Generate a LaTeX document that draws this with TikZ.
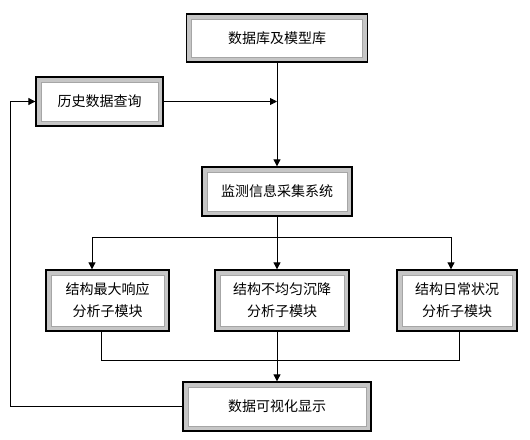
\documentclass[tikz,border=0pt]{standalone}
\usepackage{fontspec}
\newfontfamily\cjk{Noto Sans CJK SC}
\usetikzlibrary{arrows.meta,positioning,calc}

\begin{document}
\begin{tikzpicture}[x=1pt, y=-1pt,
  box/.style={draw=black, line width=1.3pt, fill=white, inner sep=0pt, align=center,
    font=\cjk\fontsize{14}{22}\selectfont,
    path picture={
      \draw[gray!45, line width=10pt] (path picture bounding box.south west) rectangle (path picture bounding box.north east);
      \draw[gray!70, line width=0.6pt] ([shift={(5pt,-5pt)}]path picture bounding box.north west) rectangle ([shift={(-5pt,5pt)}]path picture bounding box.south east);}},
  line/.style={line width=0.8pt},
  arr/.style={line, -{Triangle[length=7pt, width=7pt]}}]
  \useasboundingbox (0,0) rectangle (530,439);
  \node[box, minimum width=181pt, minimum height=48pt] (db) at (277,38) {数据库及模型库};
  \node[box, minimum width=127pt, minimum height=49pt] (hist) at (99.5,101.5) {历史数据查询};
  \node[box, minimum width=150pt, minimum height=49pt] (mon) at (277,191.5) {监测信息采集系统};
  \node[box, minimum width=123pt, minimum height=61pt] (maxr) at (107.5,300.5) {结构最大响应\\分析子模块};
  \node[box, minimum width=134pt, minimum height=61pt] (uneven) at (282,300.5) {结构不均匀沉降\\分析子模块};
  \node[box, minimum width=120pt, minimum height=61pt] (daily) at (457,300.5) {结构日常状况\\分析子模块};
  \node[box, minimum width=188pt, minimum height=49pt] (vis) at (277,406.5) {数据可视化显示};
  \coordinate (merge) at (277,101.5);
  \coordinate (split) at (277,237);
  \coordinate (sl) at (92,237);
  \coordinate (sr) at (451,237);
  \coordinate (join) at (277,360);
  \coordinate (jl) at (101,360);
  \coordinate (jr) at (459,360);
  \coordinate (loop) at (10,0);
  \draw[arr] (db.south) -- (mon.north);
  \draw[arr] (hist.east) -- (merge);
  \draw[line] (mon.south) -- (split);
  \draw[line] (sl) -- (sr);
  \draw[arr] (sl) -- (sl |- maxr.north);
  \draw[arr] (split) -- (split |- uneven.north);
  \draw[arr] (sr) -- (sr |- daily.north);
  \draw[line] (maxr.south -| jl) -- (jl) -- (jr) -- (daily.south -| jr);
  \draw[line] (uneven.south -| join) -- (join);
  \draw[arr] (join) -- (vis.north);
  \draw[arr] (vis.west) -- (vis.west -| loop) |- (hist.west);
\end{tikzpicture}
\end{document}
